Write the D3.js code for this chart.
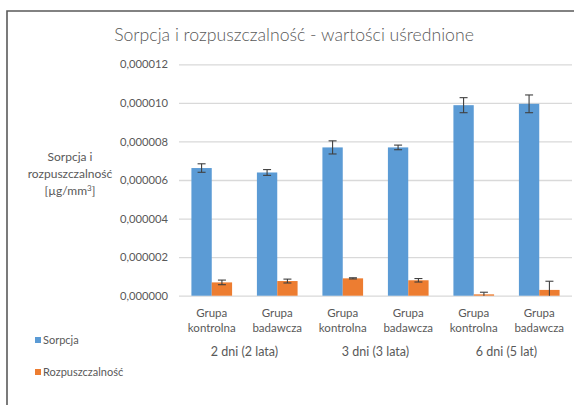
<!DOCTYPE html>
<html><head><meta charset="utf-8">
<script src="https://cdn.jsdelivr.net/npm/d3@7/dist/d3.min.js"></script>
<style>html,body{margin:0;padding:0;background:#fff;}svg{display:block;}</style>
</head><body>
<script>
const categories = ["Grupa kontrolna","Grupa badawcza","Grupa kontrolna","Grupa badawcza","Grupa kontrolna","Grupa badawcza"];
const groups = ["2 dni (2 lata)","3 dni (3 lata)","6 dni (5 lat)"];
const seriesNames = ["Sorpcja","Rozpuszczalność"];
const sorpcja = [6.62e-6,6.39e-6,7.69e-6,7.69e-6,9.88e-6,9.95e-6];
const sorpcjaErr = [0.22e-6,0.15e-6,0.34e-6,0.12e-6,0.39e-6,0.46e-6];
const rozp = [0.69e-6,0.76e-6,0.90e-6,0.80e-6,0.07e-6,0.30e-6];
const rozpErr = [0.12e-6,0.10e-6,0.03e-6,0.09e-6,0.11e-6,0.45e-6];
const yTicks = [0,2e-6,4e-6,6e-6,8e-6,10e-6,12e-6];
const colors = ["#5B9BD5","#ED7D31"];
const title = "Sorpcja i rozpuszczalność - wartości uśrednione";

const W=574,H=405;
const svg=d3.select("body").append("svg").attr("width",W).attr("height",H);
const FONT="Lato, 'Open Sans', sans-serif";
const txt="#595959";

const y=d3.scaleLinear().domain([0,12e-6]).range([295.7,64.3]);
const x=d3.scaleBand().domain(d3.range(categories.length)).range([179,572]).paddingInner(0).paddingOuter(0);
const xs=d3.scaleBand().domain(seriesNames).range([0,x.bandwidth()]).paddingInner(0).paddingOuter(0.61);

function fit(sel,target){
  const n=sel.node(); const fs=parseFloat(sel.attr("font-size"));
  const w=n.getComputedTextLength(); if(w>0) sel.attr("font-size",fs*target/w);
}

// frame
svg.append("path").attr("d","M7,405 L7,11 L574,11").attr("fill","none").attr("stroke","#5a5a5a").attr("stroke-width",1.6);

// title
const t=svg.append("text").attr("x",294).attr("y",41).attr("text-anchor","middle")
  .attr("font-family",FONT).attr("font-weight",300).attr("font-size",18).attr("fill",txt).text(title);
fit(t,360);

// gridlines
const yAxis=d3.axisLeft(y).tickValues(yTicks).tickSize(-(572-179)).tickPadding(11)
  .tickFormat(v=>v.toFixed(6).replace(".",","));
const ga=svg.append("g").attr("transform","translate(179,0)").call(yAxis);
ga.select(".domain").remove();
ga.selectAll(".tick line").attr("stroke","#d9d9d9").attr("stroke-width",1.3);
ga.selectAll(".tick text").attr("font-family",FONT).attr("font-size",11).attr("fill",txt);
ga.selectAll(".tick text").each(function(){fit(d3.select(this),48);});

// bars
const data=[sorpcja,rozp], errs=[sorpcjaErr,rozpErr];
seriesNames.forEach((s,si)=>{
  const g=svg.append("g");
  g.selectAll("rect").data(data[si]).join("rect")
    .attr("x",(d,i)=>x(i)+xs(s)).attr("width",xs.bandwidth())
    .attr("y",d=>y(d)).attr("height",d=>y(0)-y(d)).attr("fill",colors[si]);
  const eb=svg.append("g").attr("stroke","#404040").attr("stroke-width",1.1).attr("fill","none");
  data[si].forEach((v,i)=>{
    const cx=x(i)+xs(s)+xs.bandwidth()/2;
    const hi=y(v+errs[si][i]); const lo=y(Math.max(0,v-errs[si][i]));
    eb.append("line").attr("x1",cx).attr("x2",cx).attr("y1",hi).attr("y2",lo);
    eb.append("line").attr("x1",cx-4).attr("x2",cx+4).attr("y1",hi).attr("y2",hi);
    if(v-errs[si][i]>0) eb.append("line").attr("x1",cx-4).attr("x2",cx+4).attr("y1",lo).attr("y2",lo);
  });
});

// category labels
const cl=svg.append("g").attr("font-family",FONT).attr("font-size",11.5).attr("fill",txt).attr("text-anchor","middle");
categories.forEach((c,i)=>{
  const cx=x(i)+x.bandwidth()/2; const parts=c.split(" ");
  cl.append("text").attr("x",cx).attr("y",316.5).text(parts[0]);
  cl.append("text").attr("x",cx).attr("y",331.5).text(parts[1]);
});
// group labels
const gl=svg.append("g").attr("font-family",FONT).attr("font-size",12.5).attr("fill",txt).attr("text-anchor","middle");
groups.forEach((gname,gi)=>{
  const cx=x(gi*2+1);
  gl.append("text").attr("x",cx).attr("y",356).text(gname);
});

// y axis title
const yt=svg.append("text").attr("font-family",FONT).attr("font-size",12).attr("fill",txt).attr("text-anchor","middle");
yt.append("tspan").attr("x",70).attr("y",161).text("Sorpcja i");
yt.append("tspan").attr("x",70).attr("y",178).text("rozpuszczalność");
const l3=yt.append("tspan").attr("x",70).attr("y",195);
l3.append("tspan").text("[µg/mm");
l3.append("tspan").attr("font-size",8).attr("dy",-4).text("3");
l3.append("tspan").attr("dy",4).text("]");

// legend
const lg=svg.append("g").attr("font-family",FONT).attr("font-size",11).attr("fill",txt);
const legY=[340,372];
seriesNames.forEach((s,i)=>{
  lg.append("rect").attr("x",35).attr("y",legY[i]-3).attr("width",6).attr("height",6).attr("fill",colors[i]);
  lg.append("text").attr("x",43).attr("y",legY[i]+4).text(s);
});
</script>
</body></html>
